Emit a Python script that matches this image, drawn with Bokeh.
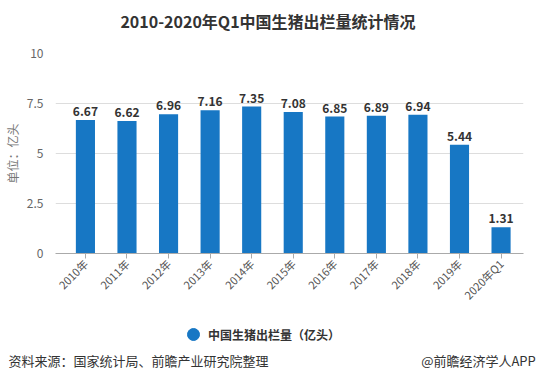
import math
from bokeh.plotting import figure
from bokeh.layouts import column
from bokeh.models import (ColumnDataSource, Range1d, FixedTicker, Legend, LegendItem, LabelSet)
from bokeh.core.properties import value
from bokeh.embed import file_html
from bokeh.resources import INLINE

categories = ["2010年", "2011年", "2012年", "2013年", "2014年", "2015年",
              "2016年", "2017年", "2018年", "2019年", "2020年Q1"]
values = [6.67, 6.62, 6.96, 7.16, 7.35, 7.08, 6.85, 6.89, 6.94, 5.44, 1.31]
y_ticks = [0, 2.5, 5, 7.5, 10]
y_tick_labels = ["0", "2.5", "5", "7.5", "10"]
title_text = "2010-2020年Q1中国生猪出栏量统计情况"
series_name = "中国生猪出栏量（亿头）"
y_label = "单位：亿头"
source_text = "资料来源：国家统计局、前瞻产业研究院整理"
brand_text = "@前瞻经济学人APP"

FONT = "Noto Sans CJK SC"
BLUE = "#1777c4"

idx = list(range(len(categories)))
src = ColumnDataSource(dict(x=idx, top=values, lab=[f"{v:.2f}" for v in values]))

# ---------------- header strip (title) ----------------
# frame lines up with the chart frame (page x 55..523): x in page pixels
h = figure(width=536, height=45, output_backend="svg", toolbar_location=None,
           x_range=Range1d(55, 523), y_range=Range1d(0, 45),
           x_axis_type=None, y_axis_type=None,
           min_border_left=55, min_border_right=13, min_border_top=0, min_border_bottom=0)
h.outline_line_color = None
h.xgrid.grid_line_color = None
h.ygrid.grid_line_color = None
h.text(x=[267.5], y=[25], text=[title_text], text_align="center", text_baseline="middle",
       text_font=value(FONT), text_font_size="16px", text_font_style="bold",
       text_color="#333333")

# ---------------- main chart ----------------
p = figure(width=536, height=265, output_backend="svg", toolbar_location=None,
           x_range=Range1d(-0.72, 10.54), y_range=Range1d(0, 10),
           min_border_left=55, min_border_right=13, min_border_top=8, min_border_bottom=56)
p.outline_line_color = None
p.background_fill_color = "white"
p.border_fill_color = "white"

p.vbar(x="x", top="top", width=0.46, source=src, fill_color=BLUE, line_color=None)

labels = LabelSet(x="x", y="top", text="lab", source=src, text_align="center",
                  text_baseline="bottom", y_offset=4, text_font=value(FONT),
                  text_font_size="12px", text_font_style="bold", text_color="#333333")
p.add_layout(labels)

p.xaxis.ticker = FixedTicker(ticks=idx)
p.xaxis.major_label_overrides = {i: c for i, c in enumerate(categories)}
p.xaxis.major_label_orientation = math.pi / 4
p.xaxis.major_label_text_font = FONT
p.xaxis.major_label_text_font_size = "11px"
p.xaxis.major_label_text_color = "#555555"
p.xaxis.axis_line_color = "#aaaaaa"
p.xaxis.major_tick_line_color = "#aaaaaa"
p.xaxis.major_tick_in = 0
p.xaxis.major_tick_out = 5
p.xaxis.minor_tick_line_color = None
p.xaxis.major_label_standoff = 3

p.yaxis.ticker = FixedTicker(ticks=y_ticks)
p.yaxis.major_label_overrides = {t: l for t, l in zip(y_ticks, y_tick_labels)}
p.yaxis.axis_line_color = None
p.yaxis.major_tick_line_color = None
p.yaxis.minor_tick_line_color = None
p.yaxis.major_label_text_font = FONT
p.yaxis.major_label_text_font_size = "12px"
p.yaxis.major_label_text_color = "#666666"
p.yaxis.major_label_standoff = 6
p.yaxis.axis_label = y_label
p.yaxis.axis_label_text_font = FONT
p.yaxis.axis_label_text_font_size = "12px"
p.yaxis.axis_label_text_font_style = "normal"
p.yaxis.axis_label_text_color = "#777777"
p.yaxis.axis_label_standoff = 3

p.xgrid.grid_line_color = None
p.ygrid.grid_line_color = "#dddddd"

# ---------------- legend + footer strip ----------------
f = figure(width=536, height=75, output_backend="svg", toolbar_location=None,
           x_range=Range1d(55, 523), y_range=Range1d(0, 40),
           y_axis_type=None,
           min_border_left=55, min_border_right=13, min_border_top=0, min_border_bottom=35)
f.outline_line_color = None
f.xgrid.grid_line_color = None
f.ygrid.grid_line_color = None
f.border_fill_color = "white"

key = f.scatter(x=[300], y=[-100], marker="circle", size=12, fill_color=BLUE, line_color=BLUE)
legend = Legend(items=[LegendItem(label=series_name, renderers=[key])],
                location=(123, 1), orientation="horizontal",
                label_text_font=FONT, label_text_font_size="12px",
                label_text_font_style="bold", label_text_color="#333333",
                border_line_color=None, background_fill_alpha=0,
                glyph_width=30, glyph_height=30, label_height=30,
                label_standoff=0, padding=0, margin=0)
f.add_layout(legend, "center")

# footer texts as labels of the strip's bottom axis
f.xaxis.ticker = FixedTicker(ticks=[138, 478])
f.xaxis.major_label_overrides = {138: source_text, 478: brand_text}
f.xaxis.axis_line_color = None
f.xaxis.major_tick_line_color = None
f.xaxis.minor_tick_line_color = None
f.xaxis.major_tick_in = 0
f.xaxis.major_tick_out = 0
f.xaxis.major_label_standoff = 0
f.xaxis.major_label_text_font = FONT
f.xaxis.major_label_text_font_size = "13px"
f.xaxis.major_label_text_color = "#333333"

layout = column(h, p, f, spacing=0)
open("out.html", "w").write(file_html(layout, INLINE))
